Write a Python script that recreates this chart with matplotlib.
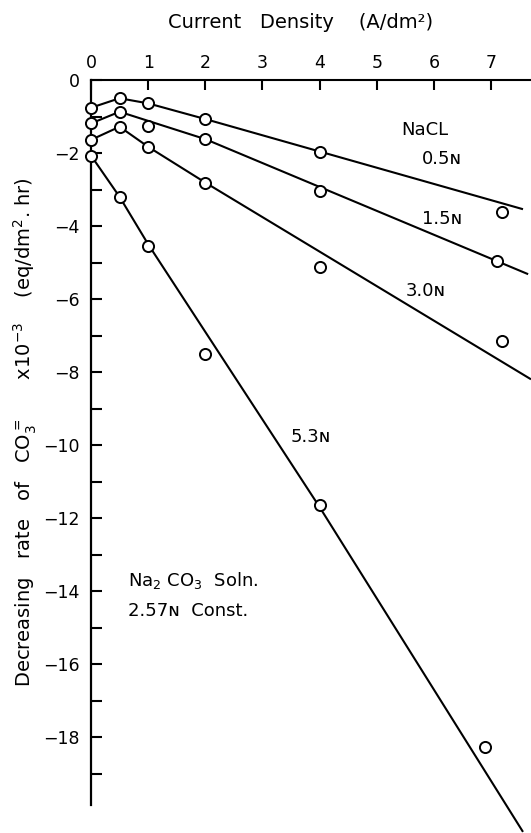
import matplotlib as mpl
import matplotlib.pyplot as plt

FOUT = "out.png"

# measured decreasing rates (x10^-3 eq/dm2.hr) vs current density (A/dm2)
cd_05 = [0, 0.5, 1, 2, 4, 7.2]
rate_05 = [-0.76, -0.50, -0.64, -1.07, -1.96, -3.61]
cd_15 = [0, 0.5, 1, 2, 4, 7.1]
rate_15 = [-1.19, -0.87, -1.25, -1.62, -3.04, -4.95]
cd_30 = [0, 0.5, 1, 2, 4, 7.2]
rate_30 = [-1.64, -1.28, -1.83, -2.81, -5.13, -7.14]
cd_53 = [0, 0.5, 1, 2, 4, 6.9]
rate_53 = [-2.07, -3.20, -4.55, -7.51, -11.64, -18.27]

# hand-drawn trend lines through the data
fit_x_05 = [0, 0.5, 1, 2, 7.56]
fit_y_05 = [-0.76, -0.50, -0.64, -1.07, -3.54]
fit_x_15 = [0, 0.5, 2, 7.65]
fit_y_15 = [-1.19, -0.87, -1.62, -5.32]
fit_x_30 = [0, 0.5, 1, 2, 7.7]
fit_y_30 = [-1.64, -1.28, -1.83, -2.81, -8.2]
fit_x_53 = [0, 0.5, 1, 4, 7.56]
fit_y_53 = [-2.07, -3.20, -4.50, -11.70, -20.6]

x_ticks = [0, 1, 2, 3, 4, 5, 6, 7]
y_major = [0, -2, -4, -6, -8, -10, -12, -14, -16, -18]
y_minor = [-1, -3, -5, -7, -9, -11, -13, -15, -17, -19]

mpl.rcParams.update({
    'font.family': 'DejaVu Sans',
    'font.size': 12,
    'mathtext.default': 'regular',
})

fig = plt.figure(figsize=(5.31, 8.33), dpi=100)
ax = fig.add_axes([91 / 531, 0.0, 1 - 91 / 531, 1 - 80 / 833])
ax.set_xlim(0, 7.7)
ax.set_ylim(-20.63, 0)

line_kw = dict(color="black", lw=1.5, solid_capstyle="butt")
mark_kw = dict(ls="none", marker="o", ms=8, mfc="white", mec="black",
               mew=1.4, zorder=3)

for fx, fy, x, y in [(fit_x_05, fit_y_05, cd_05, rate_05),
                     (fit_x_15, fit_y_15, cd_15, rate_15),
                     (fit_x_30, fit_y_30, cd_30, rate_30),
                     (fit_x_53, fit_y_53, cd_53, rate_53)]:
    ax.plot(fx, fy, clip_on=False, **line_kw)
    ax.plot(x, y, clip_on=False, **mark_kw)

# axes: top spine carries the x scale, left spine the rate
for side in ("bottom", "right"):
    ax.spines[side].set_visible(False)
ax.spines["top"].set_linewidth(1.5)
ax.spines["left"].set_linewidth(1.6)
ax.spines["left"].set_bounds(-19.86, 0)

ax.xaxis.tick_top()
ax.set_xticks(x_ticks)
ax.tick_params(axis="x", direction="in", length=7, width=1.5, pad=6,
               labelsize=12.5)
ax.set_yticks(y_major)
ax.set_yticks(y_minor, minor=True)
ax.tick_params(axis="y", which="both", direction="in", length=8, width=1.5,
               pad=8, labelsize=12.5)

ax.text(5.85, -1.37, "NaCL", ha="center", va="center", fontsize=13)
ax.text(6.14, -2.17, "0.5ɴ", ha="center", va="center", fontsize=13)
ax.text(6.14, -3.81, "1.5ɴ", ha="center", va="center", fontsize=13)
ax.text(5.85, -5.77, "3.0ɴ", ha="center", va="center", fontsize=13)
ax.text(3.84, -9.77, "5.3ɴ", ha="center", va="center", fontsize=13)
ax.text(0.65, -13.7, r"Na$_2$ CO$_3$  Soln.", ha="left", va="center",
        fontsize=13)
ax.text(0.65, -14.55, "2.57ɴ  Const.", ha="left", va="center", fontsize=13)

fig.text(301 / 531, 1 - 22 / 833, "Current   Density    (A/dm²)",
         ha="center", va="center", fontsize=14)
fig.text(25 / 531, 1 - 432 / 833,
         r"Decreasing   rate   of   CO$_3^{=}$      x10$^{-3}$    (eq/dm$^2$. hr)",
         ha="center", va="center", rotation=90, fontsize=14)

plt.savefig(FOUT, dpi=100)
